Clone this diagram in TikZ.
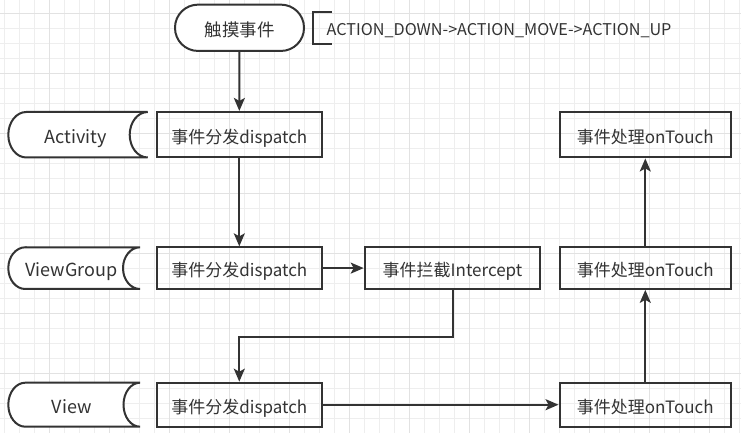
\documentclass[tikz,border=0pt]{standalone}
\usepackage{fontspec}
\setmainfont{Noto Sans CJK SC}
\usetikzlibrary{arrows.meta}
\definecolor{ink}{HTML}{333333}
\definecolor{gridminor}{HTML}{EEEEEE}
\definecolor{gridmajor}{HTML}{E2E2E2}
\tikzstyle{stepbox}=[draw=ink,line width=2pt,inner sep=0pt,minimum width=165pt,text height=17pt,text depth=0pt,text=ink,font=\fontsize{17}{20}\selectfont]
\tikzstyle{lanetext}=[text=ink,text height=17pt,text depth=0pt,font=\fontsize{18}{21}\selectfont]
\tikzstyle{lane}=[draw=ink,line width=2pt,fill=white]
\tikzstyle{flow}=[draw=ink,line width=2pt,-{Stealth[length=13pt,width=11pt,inset=3pt]}]

\begin{document}
\begin{tikzpicture}[x=1pt,y=1pt]
\useasboundingbox (0,0) rectangle (741,433);
\fill[white] (0,0) rectangle (741,433);
\begin{scope}
\clip (0,0) rectangle (741,433);
\draw[gridminor,line width=1pt,step=15,shift={(4.3,-0.3)}] (-15,0) grid (750,450);
\draw[gridmajor,line width=1pt,step=60,shift={(49.3,-0.3)}] (-60,0) grid (720,450);
\end{scope}

\node[draw=ink,line width=2pt,fill=white,rounded corners=23pt,minimum width=129pt,minimum height=46.3pt,inner sep=0pt,text height=17pt,text depth=0pt,text=ink,font=\fontsize{17.5}{20}\selectfont] (touch) at (239.5,405.2) {触摸事件};
\draw[ink,line width=2pt] (332,421) -- (312.7,421) -- (312.7,388.7) -- (332,388.7);
\node[anchor=west,inner sep=0pt,text=ink,font=\fontsize{16.2}{19}\selectfont] (actions) at (326.5,402.8) {ACTION\_DOWN->ACTION\_MOVE->ACTION\_UP};

\draw[lane] (26.3,321) -- (147.7,321) arc[start angle=90,end angle=270,x radius=18,y radius=22.75] -- (26.3,275.5) arc[start angle=270,end angle=90,x radius=18,y radius=22.75] -- cycle;
\node[lanetext] (activity) at (75.5,298.3) {Activity};
\draw[lane] (25.3,185.7) -- (140,185.7) arc[start angle=90,end angle=270,x radius=17,y radius=20.85] -- (25.3,144) arc[start angle=270,end angle=90,x radius=17,y radius=20.85] -- cycle;
\node[lanetext] (viewgroup) at (71.5,164.9) {ViewGroup};
\draw[lane] (25.3,50.3) -- (140,50.3) arc[start angle=90,end angle=270,x radius=16.5,y radius=22] -- (25.3,6.3) arc[start angle=270,end angle=90,x radius=17,y radius=22] -- cycle;
\node[lanetext] (view) at (71.7,28.3) {View};

\node[stepbox,minimum height=45.5pt] (actDispatch) at (239.3,298.3) {事件分发dispatch};
\node[stepbox,minimum height=41.5pt] (vgDispatch) at (239.3,164.9) {事件分发dispatch};
\node[stepbox,minimum height=44pt] (viewDispatch) at (239.3,28.3) {事件分发dispatch};
\node[stepbox,minimum width=175.6pt,minimum height=41.5pt] (vgIntercept) at (452.5,164.9) {事件拦截Intercept};
\node[stepbox,minimum width=171.5pt,minimum height=45.5pt] (actTouch) at (645.3,298.3) {事件处理onTouch};
\node[stepbox,minimum width=171.5pt,minimum height=41.5pt] (vgTouch) at (645.3,164.9) {事件处理onTouch};
\node[stepbox,minimum width=171.5pt,minimum height=44pt] (viewTouch) at (645.3,28.3) {事件处理onTouch};

\draw[flow] (touch) -- (actDispatch);
\draw[flow] (actDispatch) -- (vgDispatch);
\draw[flow] (vgDispatch) -- (vgIntercept);
\draw[flow] (vgIntercept.south) -- ++(0,-47) -| (viewDispatch.north);
\draw[flow] (viewDispatch) -- (viewTouch);
\draw[flow] (viewTouch) -- (vgTouch);
\draw[flow] (vgTouch) -- (actTouch);

\end{tikzpicture}
\end{document}
